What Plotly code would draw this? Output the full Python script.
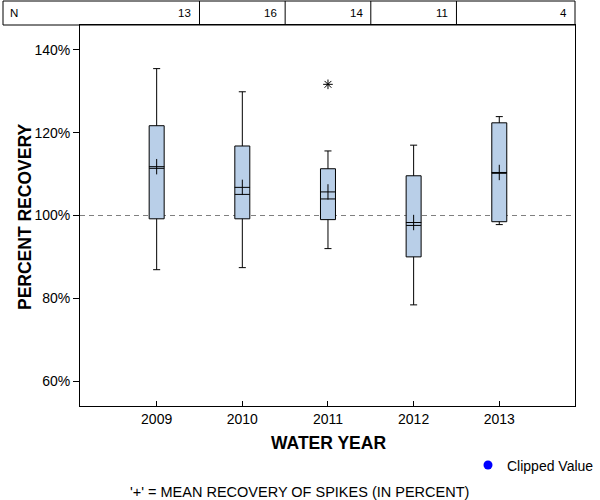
import plotly.graph_objects as go

# ---- data ----
years = [2009, 2010, 2011, 2012, 2013]
n_counts = [13, 16, 14, 11, 4]
q1 = [99.2, 99.2, 99.0, 90.0, 98.5]
median = [111.4, 105.1, 104.0, 97.6, 110.2]
q3 = [121.7, 116.8, 111.3, 109.6, 122.4]
lower_whisker = [86.9, 87.4, 92.0, 78.4, 97.8]
upper_whisker = [135.5, 129.9, 115.6, 117.0, 123.9]
means = [111.8, 106.8, 105.7, 98.3, 110.4]
outlier_years = [2011]
outlier_values = [131.7]
y_ticks = [60, 80, 100, 120, 140]
y_tick_labels = ["60%", "80%", "100%", "120%", "140%"]
x_ticks = years
x_tick_labels = ["2009", "2010", "2011", "2012", "2013"]

FONT = "Arial, 'Liberation Sans', sans-serif"
X_RANGE = [2008.105, 2013.884]
Y_RANGE = [53.96, 146.04]

# layout geometry (pixels)
W, H = 600, 500
ML, MR, MT, MB = 80, 25, 25, 94
PW = W - ML - MR
PH = H - MT - MB


def px_x(p):
    return (p - ML) / PW


def px_y(p):
    return (H - MB - p) / PH


def data_to_paper_x(v):
    return (v - X_RANGE[0]) / (X_RANGE[1] - X_RANGE[0])


fig = go.Figure()

fig.add_trace(go.Box(
    x=years, q1=q1, median=median, q3=q3,
    lowerfence=lower_whisker, upperfence=upper_whisker,
    fillcolor="#B9CFE8", line=dict(color="black", width=1),
    width=0.175, whiskerwidth=0.47, boxpoints=False,
    showlegend=False, hoverinfo="skip",
))

fig.add_trace(go.Scatter(
    x=years, y=means, mode="markers",
    marker=dict(symbol="cross-thin", size=11, color="black",
                line=dict(width=1, color="black")),
    showlegend=False, hoverinfo="skip",
))

fig.add_trace(go.Scatter(
    x=outlier_years, y=outlier_values, mode="markers",
    marker=dict(symbol="asterisk-open", size=8, color="black",
                line=dict(width=1, color="black")),
    showlegend=False, hoverinfo="skip",
))

shapes = []
# reference line at 100%
shapes.append(dict(type="line", xref="paper", yref="y", x0=0, x1=1, y0=100, y1=100,
                   line=dict(color="#808080", width=1, dash="5px,4px"), layer="below"))

# N table
t_top = px_y(1)
t_bot = 1.0
t_left = px_x(3)
shapes.append(dict(type="rect", xref="paper", yref="paper", x0=t_left, x1=1.0,
                   y0=t_bot, y1=t_top, line=dict(color="black", width=1)))
col_right = [data_to_paper_x(y + 0.5) for y in years[:-1]] + [1.0]
for xr in col_right[:-1]:
    shapes.append(dict(type="line", xref="paper", yref="paper", x0=xr, x1=xr,
                       y0=t_bot, y1=t_top, line=dict(color="black", width=1)))

# legend dot
cx, cy, r = 488, 465, 4.5
shapes.append(dict(type="circle", xref="paper", yref="paper",
                   x0=px_x(cx - r), x1=px_x(cx + r), y0=px_y(cy + r), y1=px_y(cy - r),
                   fillcolor="#0000FF", line=dict(color="#0000FF", width=0)))

annotations = []
annotations.append(dict(text="N", xref="paper", yref="paper", x=px_x(8), y=px_y(13),
                        xanchor="left", yanchor="middle", showarrow=False,
                        font=dict(family=FONT, size=11.5, color="black")))
for xr, n in zip(col_right, n_counts):
    annotations.append(dict(text=str(n), xref="paper", yref="paper", x=xr, xshift=-6,
                            y=px_y(13), xanchor="right", yanchor="middle", showarrow=False,
                            font=dict(family=FONT, size=11.5, color="black")))

annotations.append(dict(text="<b>WATER YEAR</b>", xref="paper", yref="paper",
                        x=px_x(328), y=px_y(443), xanchor="center", yanchor="middle",
                        showarrow=False, font=dict(family=FONT, size=17.5, color="black")))
annotations.append(dict(text="<b>PERCENT RECOVERY</b>", xref="paper", yref="paper",
                        x=px_x(25), y=px_y(217), xanchor="center", yanchor="middle",
                        textangle=-90, showarrow=False,
                        font=dict(family=FONT, size=17.5, color="black")))
annotations.append(dict(text="Clipped Value", xref="paper", yref="paper",
                        x=px_x(505), y=px_y(466), xanchor="left", yanchor="middle",
                        showarrow=False, font=dict(family=FONT, size=14, color="black")))
annotations.append(dict(text="'+' = MEAN RECOVERY OF SPIKES (IN PERCENT)", xref="paper",
                        yref="paper", x=px_x(299), y=px_y(492), xanchor="center",
                        yanchor="middle", showarrow=False,
                        font=dict(family=FONT, size=14.5, color="black")))

fig.update_layout(
    width=W, height=H, autosize=False,
    margin=dict(l=ML, r=MR, t=MT, b=MB, pad=0),
    paper_bgcolor="white", plot_bgcolor="white",
    font=dict(family=FONT, color="black"),
    shapes=shapes, annotations=annotations,
    showlegend=False,
    xaxis=dict(range=X_RANGE, tickmode="array", tickvals=x_ticks, ticktext=x_tick_labels,
               ticks="inside", ticklen=5, tickcolor="black", tickwidth=1,
               showline=True, linecolor="black", linewidth=1, mirror=True,
               showgrid=False, zeroline=False,
               tickfont=dict(family=FONT, size=14, color="black")),
    yaxis=dict(range=Y_RANGE, tickmode="array", tickvals=y_ticks, ticktext=y_tick_labels,
               ticks="outside", ticklen=6, tickcolor="black", tickwidth=1,
               showline=True, linecolor="black", linewidth=1, mirror=True,
               showgrid=False, zeroline=False,
               tickfont=dict(family=FONT, size=14, color="black")),
)

fig.write_html("out.html")
